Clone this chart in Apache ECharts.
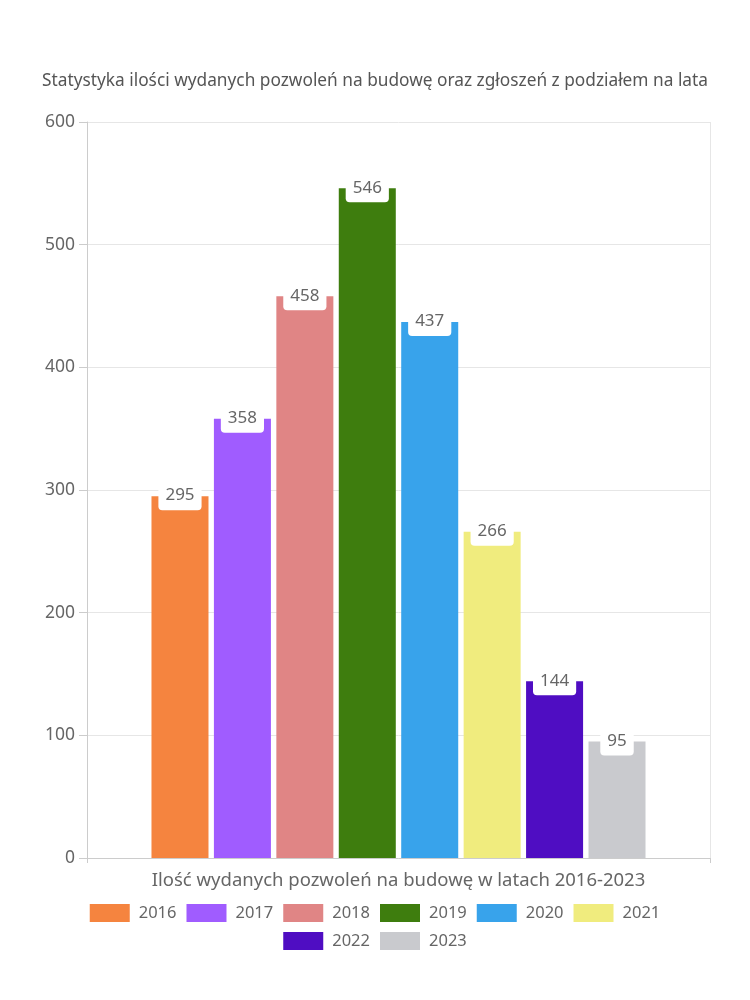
<!DOCTYPE html>
<html>
<head>
<meta charset="utf-8">
<script src="https://cdn.jsdelivr.net/npm/echarts@6/dist/echarts.min.js"></script>
<style>html,body{margin:0;padding:0;background:#fff}#c{width:750px;height:1000px}</style>
</head>
<body>
<div id="c"></div>
<script>
const years = ['2016','2017','2018','2019','2020','2021','2022','2023'];
const values = [295, 358, 458, 546, 437, 266, 144, 95];
const colors = ['#F5843F','#A05CFF','#E08585','#3E7D0E','#38A3EB','#F0EC7E','#4F0DC2','#C9CACE'];
const yTicks = [0, 100, 200, 300, 400, 500, 600];
const titleText = 'Statystyka ilości wydanych pozwoleń na budowę oraz zgłoszeń z podziałem na lata';
const xName = 'Ilość wydanych pozwoleń na budowę w latach 2016-2023';

const FONT = '"Noto Sans", sans-serif';
const chart = echarts.init(document.getElementById('c'), null, {renderer: 'canvas'});
const series = years.map((y, i) => ({
  name: y,
  type: 'bar',
  data: [values[i]],
  itemStyle: {color: colors[i]},
  barGap: '9.5%',
  barCategoryGap: '20.7%',
  label: {
    show: true,
    position: 'insideTop',
    distance: 0,
    offset: [0, -13],
    color: '#666',
    fontSize: 17,
    fontFamily: FONT,
    backgroundColor: '#fff',
    borderRadius: 4,
    padding: [4, 7, 6, 7]
  }
}));
const legendCommon = {
  left: 'center',
  itemWidth: 40,
  itemHeight: 18,
  itemGap: 10,
  icon: 'rect',
  textStyle: {fontSize: 16.5, color: '#666', fontFamily: FONT, padding: [0, 0, 0, 4], lineHeight: 18}
};
chart.setOption({
  animation: false,
  color: colors,
  title: {
    text: titleText,
    left: 'center',
    top: 68,
    textStyle: {fontSize: 17.3, fontWeight: 'normal', color: '#555', fontFamily: FONT}
  },
  grid: {left: 87, right: 40, top: 122, bottom: 142, containLabel: false},
  legend: [
    Object.assign({}, legendCommon, {data: years.slice(0, 6), top: 899}),
    Object.assign({}, legendCommon, {data: years.slice(6), top: 927})
  ],
  xAxis: {
    type: 'category',
    data: [''],
    name: xName,
    nameLocation: 'middle',
    nameGap: 13,
    nameTextStyle: {fontSize: 18.5, color: '#666', fontFamily: FONT},
    axisLine: {lineStyle: {color: '#ccc'}},
    axisTick: {show: true, length: 5, lineStyle: {color: '#ccc'}},
    axisLabel: {show: false},
    splitLine: {show: true, lineStyle: {color: '#e6e6e6'}}
  },
  yAxis: {
    type: 'value',
    min: yTicks[0],
    max: yTicks[yTicks.length - 1],
    interval: 100,
    axisLine: {show: true, lineStyle: {color: '#ccc'}},
    axisTick: {show: true, length: 8, lineStyle: {color: '#ccc'}},
    axisLabel: {fontSize: 17.5, color: '#666', fontFamily: FONT, margin: 12},
    splitLine: {show: true, lineStyle: {color: '#e6e6e6'}}
  },
  series: series
});
</script>
</body>
</html>
